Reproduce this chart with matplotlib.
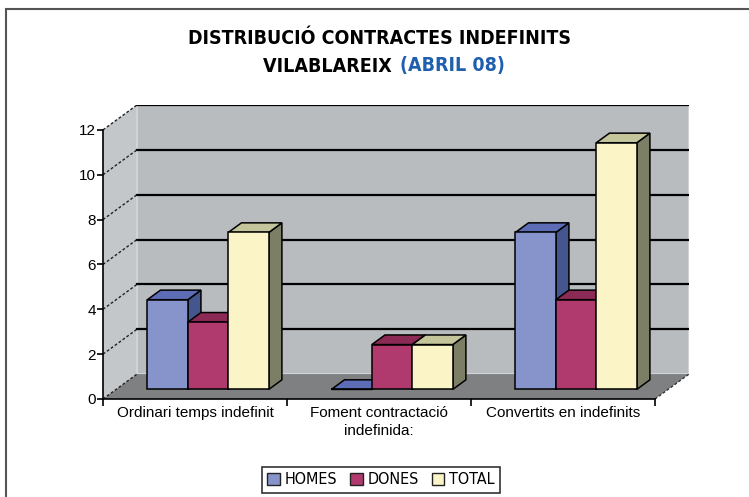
import matplotlib.pyplot as plt
from matplotlib.patches import Polygon, Patch, Rectangle

# data
categories = ["Ordinari temps indefinit", "Foment contractació\nindefinida:", "Convertits en indefinits"]
series = ["HOMES", "DONES", "TOTAL"]
homes = [4, 0, 7]
dones = [3, 2, 4]
total = [7, 2, 11]
yticks = [0, 2, 4, 6, 8, 10, 12]

front_colors = ["#8794cc", "#b03a6e", "#fbf4c6"]
top_colors = ["#5c6db5", "#8a2a55", "#c5c59b"]
side_colors = ["#45558e", "#6e2244", "#7d7e66"]

narrow = ["Liberation Sans Narrow", "DejaVu Sans"]
plain = ["Liberation Sans", "DejaVu Sans"]

# fake 3d depth, in data units
D = 34 / 184
E = 25 / 22.5
ymax = 12
bar_w = 0.22
gap = (1 - 3 * bar_w) / 2
f0, f1 = 0.385, 0.77


def shift(x, y, f):
    return (x + f * D, y + f * E)


fig = plt.figure(figsize=(7.49, 4.97), dpi=100)
ax = fig.add_axes([103 / 749, 1 - 399 / 497, 586 / 749, 294 / 497])
ax.set_xlim(0, 3 + D)
ax.set_ylim(0, ymax + E)
ax.patch.set_visible(False)

# walls + floor
ax.add_patch(Polygon([(0, 0), (D, E), (D, ymax + E), (0, ymax)], fc="#c3c7c9", ec="none", zorder=0))
ax.add_patch(Polygon([(D, E), (3 + D, E), (3 + D, ymax + E), (D, ymax + E)],
                     fc="#b8bcbf", ec="#d6d8da", lw=1.2, zorder=0))
ax.add_patch(Polygon([(0, 0), (3, 0), (3 + D, E), (D, E)], fc="#7f8081", ec="none", zorder=0))

# gridlines
for v in yticks[1:]:
    ax.plot([D, 3 + D], [v + E, v + E], color="black", lw=1.6, zorder=1)
for v in yticks:
    ax.plot([0, D], [v, v + E], color="#222222", lw=1, ls=(0, (2, 1.5)), zorder=1)
ax.plot([3, 3 + D], [0, E], color="#333333", lw=1, ls=(0, (2, 1.5)), zorder=1)

# bars
values = [homes, dones, total]
for i in range(len(categories)):
    for j in range(len(series)):
        v = values[j][i]
        x0 = i + gap + j * bar_w
        x1 = x0 + bar_w
        side = [shift(x1, 0, f0), shift(x1, 0, f1), shift(x1, v, f1), shift(x1, v, f0)]
        top = [shift(x0, v, f0), shift(x1, v, f0), shift(x1, v, f1), shift(x0, v, f1)]
        front = [shift(x0, 0, f0), shift(x1, 0, f0), shift(x1, v, f0), shift(x0, v, f0)]
        z = 3 + j
        ax.add_patch(Polygon(side, fc=side_colors[j], ec="black", lw=1.1, zorder=z))
        ax.add_patch(Polygon(top, fc=top_colors[j], ec="black", lw=1.1, zorder=z))
        ax.add_patch(Polygon(front, fc=front_colors[j], ec="black", lw=1.1, zorder=z))

# axes
for s in ["top", "right"]:
    ax.spines[s].set_visible(False)
ax.spines["left"].set_bounds(0, ymax)
ax.spines["bottom"].set_bounds(0, 3)
ax.spines["left"].set_linewidth(1.2)
ax.spines["bottom"].set_linewidth(1.2)
ax.set_yticks(yticks)
ax.set_yticklabels([str(t) for t in yticks], family=plain, fontsize=11)
ax.set_xticks([0, 1, 2, 3])
ax.set_xticklabels([])
ax.set_xticks([0.5, 1.5, 2.5], minor=True)
ax.set_xticklabels(categories, minor=True, family=plain, fontsize=11, linespacing=1.4)
ax.tick_params(axis="y", length=4, width=1.2, pad=1)
ax.tick_params(axis="x", which="major", length=5, width=1.2)
ax.tick_params(axis="x", which="minor", length=0, pad=5)

# titles
title_kw = dict(va="center", fontsize=14, fontweight="bold", family=narrow, fontstretch="condensed")
fig.text(380 / 749, 1 - 38 / 497, "DISTRIBUCIÓ CONTRACTES INDEFINITS", ha="center", **title_kw)
fig.text(398 / 749, 1 - 66 / 497, "VILABLAREIX ", ha="right", **title_kw)
fig.text(400 / 749, 1 - 66 / 497, "(ABRIL 08)", ha="left", color="#1f5fae", **title_kw)

# legend
handles = [Patch(fc=front_colors[j], ec="#222222", lw=1) for j in range(3)]
leg = fig.legend(handles, series, loc="center", bbox_to_anchor=(381 / 749, 1 - 480 / 497), ncol=3,
                 fancybox=False, edgecolor="black", handlelength=0.8, handleheight=0.8,
                 handletextpad=0.3, columnspacing=0.8, borderpad=0.35,
                 prop={"family": narrow, "size": 11.5, "stretch": "condensed"})
leg.get_frame().set_linewidth(1.2)

# outer frame
fig.add_artist(Rectangle((6 / 749, -0.1), 1.2, 1.1 - 9 / 497, transform=fig.transFigure,
                         fill=False, ec="#555555", lw=1.5))

fig.savefig("out.png", dpi=100)
